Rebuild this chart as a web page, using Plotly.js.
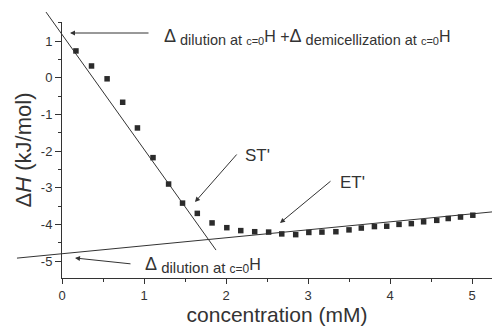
<!DOCTYPE html>
<html>
<head>
<meta charset="utf-8">
<script src="https://cdn.plot.ly/plotly-3.0.1.min.js"></script>
<style>html,body{margin:0;padding:0;background:#fff;}#chart{width:492px;height:327px;}</style>
</head>
<body>
<div id="chart"></div>
<script>
// Measured data (concentration in mM, ΔH in kJ/mol)
const concentration = [0.17,0.36,0.55,0.74,0.92,1.11,1.30,1.47,1.65,1.83,2.01,2.18,2.35,2.52,2.68,2.85,3.01,3.17,3.34,3.50,3.65,3.81,3.96,4.11,4.26,4.41,4.57,4.71,4.86,5.01];
const deltaH = [0.73,0.32,-0.03,-0.67,-1.37,-2.18,-2.90,-3.42,-3.70,-3.96,-4.09,-4.17,-4.20,-4.21,-4.26,-4.28,-4.22,-4.21,-4.20,-4.15,-4.10,-4.06,-4.05,-4.00,-3.98,-3.93,-3.89,-3.84,-3.80,-3.75];
// Tangent line ST' (steep) and ET' (shallow)
const stLineX = [-0.195, 1.878];
const stLineY = [1.79, -4.70];
const etLineX = [-0.549, 5.244];
const etLineY = [-4.92, -3.66];
// Tick labels
const xTickVals = [0,1,2,3,4,5];
const xTickText = ['0','1','2','3','4','5'];
const yTickVals = [-5,-4,-3,-2,-1,0,1];
const yTickText = ['-5','-4','-3','-2','-1','0','1'];

const W = 492, H = 327;
const mB = 49;
const plotH = H - mB;          // 278
const x0px = 62, pxPerX = 82;  // x=0 at 62px
const y0px = 77.7, pxPerY = 36.67;
const axisTopPx = 22;

const fullXRange = [(0 - x0px)/pxPerX, (W - x0px)/pxPerX];
const fullYRange = [(y0px - plotH)/pxPerY, (y0px - 0)/pxPerY];
const dispYTop = (y0px - axisTopPx)/pxPerY;

const ink = '#333333';
const font = 'Liberation Sans, Arial, sans-serif';

const traces = [
  {x: stLineX, y: stLineY, xaxis:'x', yaxis:'y', mode:'lines', line:{color:ink, width:1}, hoverinfo:'skip', showlegend:false},
  {x: etLineX, y: etLineY, xaxis:'x', yaxis:'y', mode:'lines', line:{color:ink, width:1}, hoverinfo:'skip', showlegend:false},
  {x: concentration, y: deltaH, xaxis:'x2', yaxis:'y2', mode:'markers',
   marker:{symbol:'square', size:5.5, color:'#2b2b2b'}, showlegend:false}
];

function px2x(p){return (p - x0px)/pxPerX;}
function px2y(p){return (y0px - p)/pxPerY;}

const annFont = {family: font, size: 16, color: ink};
const annotations = [
  {xref:'x', yref:'y', x: px2x(162), y: px2y(37), xanchor:'left', yanchor:'middle', showarrow:false, font:annFont,
   text:'<span style="font-size:18px">Δ</span><sub><span style="font-size:14.5px"> dilution at </span><span style="font-size:11px">c=0</span></sub>H +<span style="font-size:18px">Δ</span><sub><span style="font-size:14.5px"> demicellization at </span><span style="font-size:11px">c=0</span></sub>H'},
  {xref:'x', yref:'y', x: px2x(143), y: px2y(265), xanchor:'left', yanchor:'middle', showarrow:false, font:annFont,
   text:'<span style="font-size:18px">Δ</span><sub><span style="font-size:15px"> dilution at </span><span style="font-size:12px">c=0</span></sub>H'},
  {xref:'x', yref:'y', x: px2x(243), y: px2y(155), xanchor:'left', yanchor:'middle', showarrow:false, text:"ST'", font:{family:font, size:17, color:ink}},
  {xref:'x', yref:'y', x: px2x(338), y: px2y(182), xanchor:'left', yanchor:'middle', showarrow:false, text:"ET'", font:{family:font, size:17, color:ink}},
  // arrows
  {xref:'x', yref:'y', axref:'x', ayref:'y', x: px2x(70), y: px2y(33), ax: px2x(150), ay: px2y(33), text:'', showarrow:true, arrowhead:2, arrowsize:1, arrowwidth:1, arrowcolor:ink},
  {xref:'x', yref:'y', axref:'x', ayref:'y', x: px2x(75), y: px2y(258), ax: px2x(132), ay: px2y(264), text:'', showarrow:true, arrowhead:2, arrowsize:1, arrowwidth:1, arrowcolor:ink},
  {xref:'x', yref:'y', axref:'x', ayref:'y', x: px2x(195), y: px2y(202), ax: px2x(238), ay: px2y(153), text:'', showarrow:true, arrowhead:2, arrowsize:1, arrowwidth:1, arrowcolor:ink},
  {xref:'x', yref:'y', axref:'x', ayref:'y', x: px2x(280), y: px2y(223), ax: px2x(332), ay: px2y(180), text:'', showarrow:true, arrowhead:2, arrowsize:1, arrowwidth:1, arrowcolor:ink}
];

const layout = {
  width: W, height: H,
  margin: {l:0, r:0, t:0, b:mB, pad:0},
  paper_bgcolor:'#ffffff', plot_bgcolor:'rgba(0,0,0,0)',
  font: {family: font, color: ink, size: 13},
  showlegend: false,
  xaxis: {domain:[0,1], range: fullXRange, visible:false, fixedrange:true},
  yaxis: {domain:[0,1], range: fullYRange, visible:false, fixedrange:true},
  xaxis2: {
    domain:[x0px/W, 1], range:[0, (W - x0px)/pxPerX], anchor:'y2',
    showline:true, linecolor:ink, linewidth:1, showgrid:false, zeroline:false,
    ticks:'outside', ticklen:5, tickwidth:1, tickcolor:ink,
    tickmode:'array', tickvals:xTickVals, ticktext:xTickText,
    minor:{tickmode:'linear', tick0:0, dtick:0.5, ticks:'outside', ticklen:3, tickcolor:ink, showgrid:false},
    tickfont:{family:font, size:13, color:ink},
    title:{text:'concentration (mM)', font:{family:font, size:21, color:ink}, standoff:5}
  },
  yaxis2: {
    domain:[0, (plotH - axisTopPx)/plotH], range:[fullYRange[0], dispYTop], anchor:'x2',
    showline:true, linecolor:ink, linewidth:1, showgrid:false, zeroline:false,
    ticks:'outside', ticklen:6, tickwidth:1, tickcolor:ink,
    tickmode:'array', tickvals:yTickVals, ticktext:yTickText,
    minor:{tickmode:'linear', tick0:0, dtick:0.5, ticks:'outside', ticklen:3, tickcolor:ink, showgrid:false},
    tickfont:{family:font, size:13, color:ink},
    title:{text:'Δ<i>H</i> (kJ/mol)', font:{family:font, size:22, color:ink}, standoff:3}
  },
  annotations: annotations
};

Plotly.newPlot('chart', traces, layout, {staticPlot:true, displayModeBar:false});
</script>
</body>
</html>
